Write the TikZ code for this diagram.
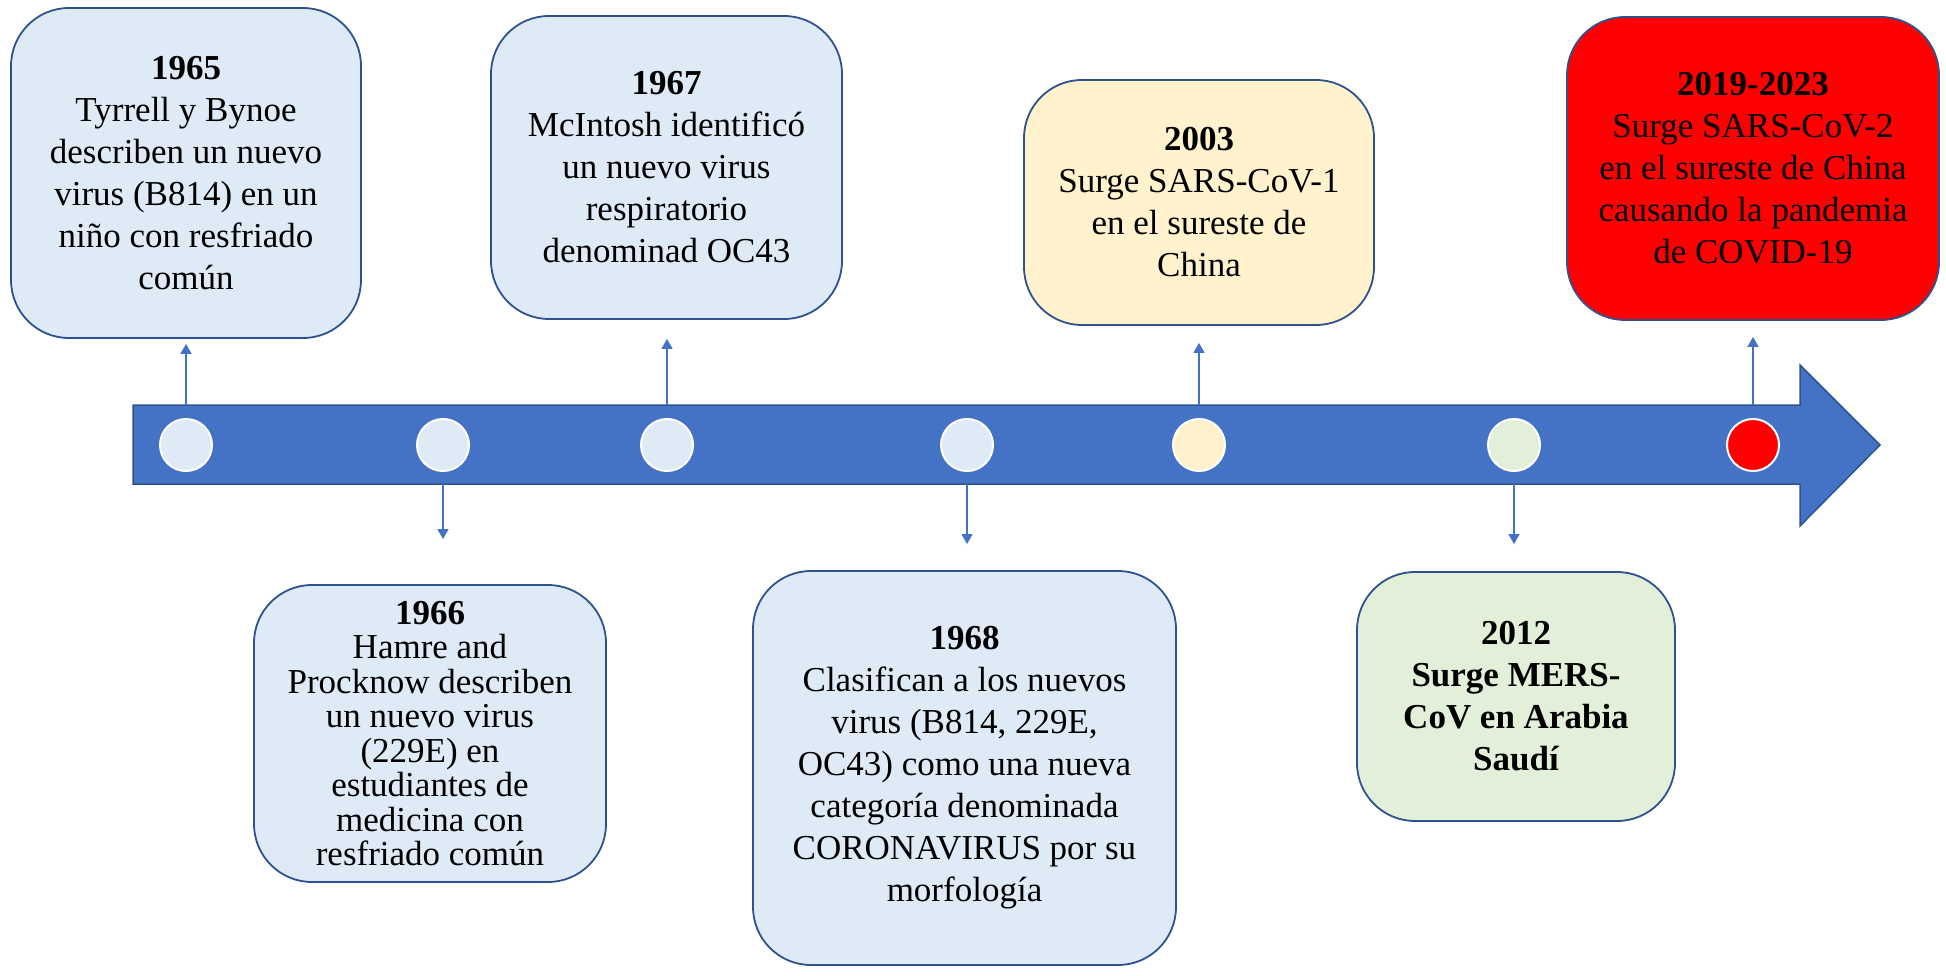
\documentclass[tikz,border=0pt]{standalone}
\usepackage{fontspec}
\setmainfont{Liberation Serif}
\usetikzlibrary{arrows.meta}
\definecolor{boxline}{HTML}{2F528F}
\definecolor{barblue}{HTML}{4472C4}
\definecolor{paleblue}{HTML}{DEEBF7}
\definecolor{paleyellow}{HTML}{FFF2CC}
\definecolor{palegreen}{HTML}{E2F0D9}
\definecolor{alertred}{HTML}{FF0000}

\begin{document}
\begin{tikzpicture}[x=1pt,y=-1pt,
  event/.style={draw=boxline, line width=1.8pt, rounded corners=58pt, align=center,
                inner sep=0pt, font=\fontsize{35}{42}\selectfont},
  dot/.style={circle, draw=white, line width=2pt, minimum size=52pt, inner sep=0pt},
  conn/.style={draw=barblue, line width=1.5pt, -{Triangle[width=11pt,length=10pt]}}]
\useasboundingbox (0,0) rectangle (1946,976);

% timeline arrow
\draw[fill=barblue, draw=boxline, line width=1.5pt]
  (133,405) -- (1800,405) -- (1800,365) -- (1880,445) -- (1800,526)
  -- (1800,484) -- (133,484) -- cycle;
\coordinate (bartop) at (0,405);
\coordinate (barbot) at (0,484);

% year markers on the timeline
\node[dot, fill=paleblue]   (d1965) at (186,445) {};
\node[dot, fill=paleblue]   (d1966) at (443,445) {};
\node[dot, fill=paleblue]   (d1967) at (667,445) {};
\node[dot, fill=paleblue]   (d1968) at (967,445) {};
\node[dot, fill=paleyellow] (d2003) at (1199,445) {};
\node[dot, fill=palegreen]  (d2012) at (1514,445) {};
\node[dot, fill=alertred]   (d2019) at (1753,445) {};

% events above the timeline
\node[event, fill=paleblue, minimum width=350pt, minimum height=330pt] (e1965) at (186,173)
  {\textbf{1965}\\Tyrrell y Bynoe\\describen un nuevo\\virus (B814) en un\\niño con resfriado\\común};
\node[event, fill=paleblue, minimum width=351pt, minimum height=303pt] (e1967) at (666.5,167.5)
  {\textbf{1967}\\McIntosh identificó\\un nuevo virus\\respiratorio\\denominad OC43};
\node[event, fill=paleyellow, minimum width=350pt, minimum height=245pt] (e2003) at (1199,202.5)
  {\textbf{2003}\\Surge SARS-CoV-1\\en el sureste de\\China};
\node[event, fill=alertred, minimum width=372pt, minimum height=303pt] (e2019) at (1753,168.5)
  {\textbf{2019-2023}\\Surge SARS-CoV-2\\en el sureste de China\\causando la pandemia\\de COVID-19};

% events below the timeline
\node[event, fill=paleblue, minimum width=352pt, minimum height=297pt,
      font=\fontsize{35}{34.5}\selectfont] (e1966) at (430,733.5)
  {\textbf{1966}\\Hamre and\\Procknow describen\\un nuevo virus\\(229E) en\\estudiantes de\\medicina con\\resfriado común};
\node[event, fill=paleblue, minimum width=423pt, minimum height=394pt] (e1968) at (964.5,768)
  {\textbf{1968}\\Clasifican a los nuevos\\virus (B814, 229E,\\OC43) como una nueva\\categoría denominada\\CORONAVIRUS por su\\morfología};
\node[event, fill=palegreen, minimum width=318pt, minimum height=249pt,
      font=\fontsize{35}{42}\selectfont\bfseries] (e2012) at (1516,696.5)
  {2012\\Surge MERS-\\CoV en Arabia\\Saudí};

% connectors from the timeline to each event
\draw[conn, shorten >=5pt]  (d1965 |- bartop) -- (d1965 |- e1965.south);
\draw[conn, shorten >=19pt] (d1967 |- bartop) -- (d1967 |- e1967.south);
\draw[conn, shorten >=17pt] (d2003 |- bartop) -- (d2003 |- e2003.south);
\draw[conn, shorten >=16pt] (d2019 |- bartop) -- (d2019 |- e2019.south);
\draw[conn, shorten >=45pt] (d1966 |- barbot) -- (d1966 |- e1966.north);
\draw[conn, shorten >=26pt] (d1968 |- barbot) -- (d1968 |- e1968.north);
\draw[conn, shorten >=27pt] (d2012 |- barbot) -- (d2012 |- e2012.north);
\end{tikzpicture}
\end{document}
